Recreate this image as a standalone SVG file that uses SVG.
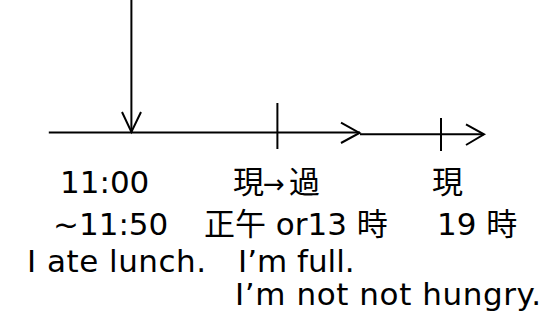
<svg xmlns="http://www.w3.org/2000/svg" width="554" height="322" viewBox="0 0 554 322">
<style>
.ln{fill:none;stroke:#000;stroke-width:2;stroke-linecap:butt;stroke-linejoin:miter}
.t{font-family:"DejaVu Sans","Noto Sans CJK JP",sans-serif;font-size:31px;fill:#000}
.a{font-family:"DejaVu Sans",sans-serif;font-size:26px;fill:#000}
</style>
<rect width="554" height="322" fill="#fff"/>
<g id="connectors">
<line class="ln" x1="131.4" y1="0" x2="131.4" y2="132"/>
<polyline class="ln" points="122,112 131.4,132 141,112"/>
<line class="ln" x1="48.8" y1="132.5" x2="360" y2="132.5"/>
<polyline class="ln" points="341,122.6 359.5,133 341,143"/>
<line class="ln" x1="277.4" y1="103" x2="277.4" y2="149"/>
<line class="ln" x1="360" y1="134.3" x2="484" y2="134.3"/>
<polyline class="ln" points="466,124.4 484,134.3 466,145"/>
<line class="ln" x1="441" y1="118" x2="441" y2="151"/>
</g>
<g id="col1">
<text class="t" x="60" y="193">11:00</text>
<text class="t" x="53" y="235">~11:50</text>
<text class="t" x="27" y="272" textLength="179" lengthAdjust="spacing">I ate lunch.</text>
</g>
<g id="col2">
<text class="t" x="233" y="193">現</text>
<text class="a" x="263" y="193">→</text>
<text class="t" x="289" y="193">過</text>
<text class="t" x="204" y="235">正午 or13 時</text>
<text class="t" x="238" y="272">I’m full.</text>
<text class="t" x="235" y="305" textLength="306" lengthAdjust="spacing">I’m not not hungry.</text>
</g>
<g id="col3">
<text class="t" x="432" y="193">現</text>
<text class="t" x="437" y="235">19 時</text>
</g>
</svg>
